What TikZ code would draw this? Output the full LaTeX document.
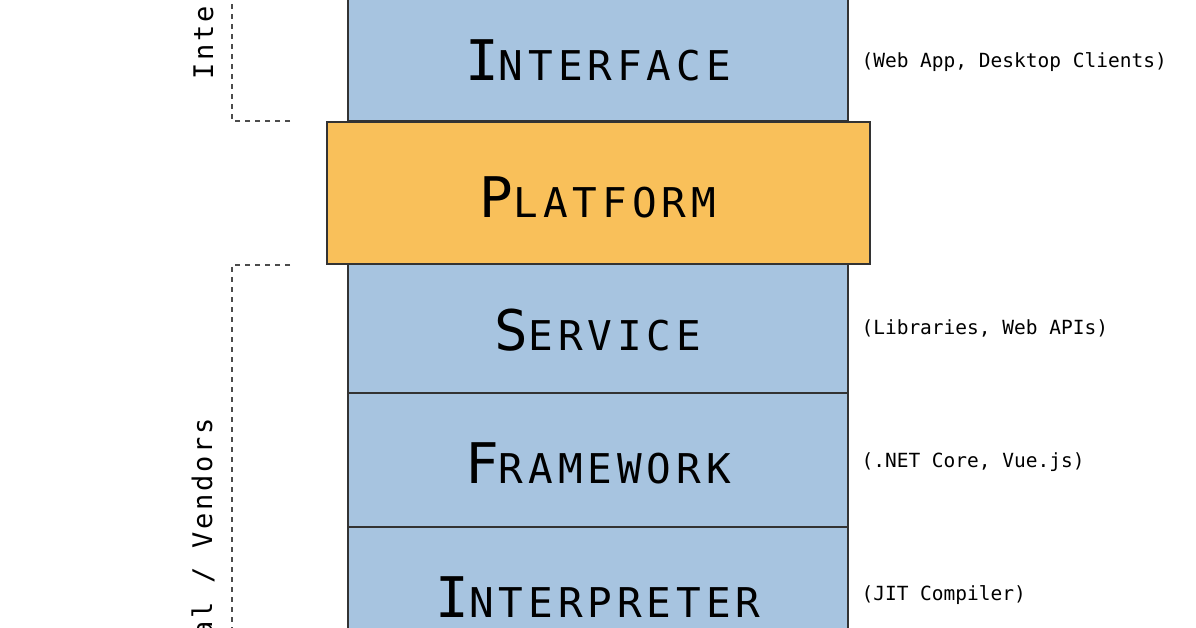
\documentclass[tikz,border=0pt]{standalone}
\usepackage{fontspec}
\setmonofont{DejaVu Sans Mono}
\newfontfamily\ttwide[LetterSpace=12]{DejaVu Sans Mono}
\newfontfamily\sidefont[LetterSpace=10]{DejaVu Sans Mono}
\newcommand{\mysc}[2]{{\ttwide\fontsize{56}{56}\selectfont #1}{\ttwide\fontsize{41}{41}\selectfont #2}}
\begin{document}
\begin{tikzpicture}[x=1pt,y=-1pt,
  blue box/.style={draw=black!80,line width=1.5pt,fill={rgb,255:red,167;green,196;blue,224}},
  orange box/.style={draw=black!80,line width=1.5pt,fill={rgb,255:red,249;green,192;blue,90}},
  ttl/.style={font=\ttfamily},
  note/.style={anchor=west,font=\ttfamily\fontsize{19.5}{21}\selectfont},
  side/.style={rotate=90,font=\sidefont\fontsize{27}{30}\selectfont},
  brack/.style={dash pattern=on 5pt off 5pt,line width=1.2pt,black!70}]
\useasboundingbox (0,0) rectangle (1196,628);
\draw[blue box] (348,-10) rectangle (848,121);
\node[ttl] (interface) at (598,60) {\mysc{I}{NTERFACE}};
\draw[blue box] (348,264) rectangle (848,393);
\node[ttl] (service) at (598,330) {\mysc{S}{ERVICE}};
\draw[blue box] (348,393) rectangle (848,527);
\node[ttl] (framework) at (598,463) {\mysc{F}{RAMEWORK}};
\draw[blue box] (348,527) rectangle (848,640);
\node[ttl] (interp) at (598,597) {\mysc{I}{NTERPRETER}};
\draw[orange box] (327,122) rectangle (870,264);
\node[ttl] (platform) at (598,197) {\mysc{P}{LATFORM}};
\node[note] (n1) at (858,62) {(Web App, Desktop Clients)};
\node[note] (n2) at (858,328) {(Libraries, Web APIs)};
\node[note] (n3) at (858,462) {(.NET Core, Vue.js)};
\node[note] (n4) at (858,595) {(JIT Compiler)};
\draw[brack] (290,121) -- (232,121) -- (232,-5);
\draw[brack] (290,265) -- (232,265) -- (232,640);
\node[side,anchor=west] (l1) at (203,83) {Interface};
\node[side,anchor=east] (l2) at (203,415) {External / Vendors};
\end{tikzpicture}
\end{document}
